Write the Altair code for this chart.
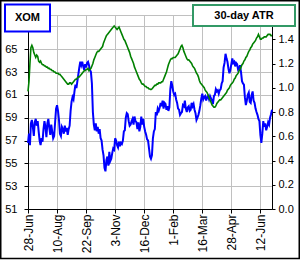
import altair as alt
import pandas as pd

# x-axis category labels (one every 30 trading days)
tick_labels = ["28-Jun", "10-Aug", "22-Sep", "3-Nov", "16-Dec",
               "1-Feb", "16-Mar", "28-Apr", "12-Jun"]
tick_step = 30

# XOM daily close (left axis)
price = [
    56.8, 57.6, 56.6, 58.5, 58.8, 58.2, 57.4, 58.6, 58.9, 58.3,
    58.7, 57.8, 57.0, 56.6, 57.2, 56.9, 58.0, 58.7, 58.2, 57.3,
    58.5, 58.9, 58.1, 57.5, 58.4, 57.8, 57.2, 57.4, 58.6, 59.8,
    60.1, 59.6, 58.8, 57.6, 57.4, 58.2, 58.0, 57.6, 58.3, 57.8,
    58.1, 57.5, 58.0, 58.3, 59.6, 60.4, 60.8, 60.6, 61.3, 61.9,
    61.6, 62.2, 62.8, 63.4, 63.9, 63.6, 63.9, 63.5, 63.2, 63.7,
    63.4, 63.8, 63.9, 63.6, 63.2, 63.0, 62.0, 59.5, 58.4, 57.9,
    58.5, 57.8, 58.2, 57.6, 58.0, 57.2, 57.0, 56.2, 55.7, 54.6,
    54.3, 55.3, 55.6, 54.8, 56.0, 55.2, 55.4, 55.9, 56.3, 56.2,
    57.2, 57.0, 56.6, 56.4, 56.9, 56.5, 56.8, 56.7, 57.0, 57.8,
    57.9, 59.0, 59.4, 59.3, 58.7, 58.3, 58.4, 58.7, 58.9, 58.4,
    59.1, 58.7, 58.6, 58.0, 58.6, 57.8, 58.2, 59.1, 58.4, 58.9,
    58.2, 57.8, 57.5, 57.1, 57.0, 56.3, 55.6, 55.4, 55.7, 57.2,
    57.8, 58.0, 59.5, 59.2, 59.8, 59.6, 59.9, 60.3, 60.0, 60.5,
    59.8, 60.3, 60.2, 59.7, 60.0, 59.6, 59.9, 61.5, 62.2, 61.8,
    61.3, 61.0, 61.1, 60.6, 60.3, 59.8, 59.7, 59.25, 59.4, 59.5,
    60.1, 60.0, 60.5, 59.8, 59.5, 59.9, 60.0, 59.6, 59.7, 60.3,
    60.0, 60.2, 59.7, 59.4, 58.8, 59.0, 59.25, 59.6, 60.1, 60.7,
    61.1, 60.6, 60.8, 60.9, 60.5, 60.8, 60.9, 60.6, 60.9, 60.7,
    60.5, 60.2, 60.9, 61.0, 61.5, 61.3, 61.4, 61.1, 61.4, 61.5,
    62.0, 62.2, 63.4, 63.8, 64.6, 64.2, 63.9, 63.3, 62.9, 63.2,
    63.7, 64.2, 63.8, 63.9, 63.5, 63.8, 63.7, 63.2, 63.3, 63.6,
    63.0, 62.2, 62.0, 61.9, 60.8, 60.1, 60.5, 61.0, 61.2, 60.4,
    60.3, 61.0, 61.3, 60.5, 60.3, 59.8, 59.5, 59.25, 58.9, 58.7,
    57.5, 56.8, 57.6, 58.7, 58.2, 58.5, 57.9, 58.2, 58.6, 58.4,
    59.0, 59.3, 59.7,
]

# 30-day ATR (right axis)
atr = [
    0.97, 1.05, 1.20, 1.33, 1.35, 1.33, 1.29, 1.27, 1.25, 1.27,
    1.26, 1.22, 1.21, 1.22, 1.20, 1.19, 1.19, 1.18, 1.18, 1.17,
    1.17, 1.16, 1.16, 1.15, 1.15, 1.14, 1.14, 1.13, 1.13, 1.12,
    1.12, 1.12, 1.11, 1.11, 1.10, 1.09, 1.08, 1.07, 1.06, 1.05,
    1.04, 1.03, 1.03, 1.04, 1.04, 1.03, 1.04, 1.05, 1.06, 1.07,
    1.07, 1.08, 1.09, 1.09, 1.10, 1.11, 1.12, 1.13, 1.14, 1.14,
    1.15, 1.15, 1.16, 1.14, 1.15, 1.16, 1.18, 1.20, 1.23, 1.25,
    1.27, 1.29, 1.30, 1.30, 1.31, 1.32, 1.33, 1.34, 1.37, 1.39,
    1.41, 1.43, 1.44, 1.45, 1.46, 1.47, 1.48, 1.49, 1.50, 1.51,
    1.50, 1.49, 1.48, 1.49, 1.50, 1.48, 1.46, 1.44, 1.42, 1.40,
    1.39, 1.37, 1.35, 1.33, 1.31, 1.29, 1.26, 1.24, 1.22, 1.20,
    1.17, 1.15, 1.13, 1.11, 1.09, 1.07, 1.06, 1.04, 1.03, 1.03,
    1.02, 1.01, 1.01, 1.00, 1.00, 0.99, 0.99, 0.985, 0.99, 1.00,
    1.01, 1.02, 1.02, 1.03, 1.03, 1.04, 1.04, 1.04, 1.05, 1.05,
    1.07, 1.09, 1.11, 1.13, 1.16, 1.19, 1.21, 1.23, 1.24, 1.24,
    1.25, 1.25, 1.25, 1.26, 1.27, 1.28, 1.30, 1.32, 1.34, 1.35,
    1.33, 1.30, 1.28, 1.26, 1.24, 1.23, 1.23, 1.22, 1.21, 1.20,
    1.18, 1.17, 1.16, 1.14, 1.12, 1.11, 1.09, 1.06, 1.04, 1.03,
    1.02, 1.01, 1.00, 0.98, 0.97, 0.96, 0.94, 0.92, 0.90, 0.88,
    0.86, 0.85, 0.84, 0.84, 0.85, 0.87, 0.88, 0.89, 0.90, 0.90,
    0.91, 0.92, 0.93, 0.94, 0.95, 0.96, 0.98, 0.99, 1.00, 1.02,
    1.03, 1.04, 1.05, 1.07, 1.08, 1.10, 1.11, 1.12, 1.14, 1.15,
    1.17, 1.19, 1.20, 1.22, 1.23, 1.25, 1.26, 1.28, 1.30, 1.31,
    1.33, 1.34, 1.36, 1.37, 1.38, 1.39, 1.41, 1.42, 1.44, 1.42,
    1.40, 1.40, 1.41, 1.41, 1.42, 1.42, 1.42, 1.43, 1.44, 1.44,
    1.44, 1.43, 1.43,
]

left_ticks = [51, 53, 55, 57, 59, 61, 63, 65, 67]
right_ticks = [0.0, 0.2, 0.4, 0.6, 0.8, 1.0, 1.2, 1.4]

df = pd.DataFrame({"day": list(range(len(price))), "price": price, "atr": atr})
n_last = len(price) - 1

FONT = "Liberation Sans"
label_js = "[" + ",".join("'%s'" % s for s in tick_labels) + "]"

x_axis = alt.Axis(
    values=list(range(0, n_last, tick_step)),
    labelExpr=label_js + "[round(datum.value/%d)]" % tick_step,
    labelAngle=-90, labelAlign="right", labelBaseline="middle",
    labelFont=FONT, labelFontSize=12, labelColor="black",
    labelPadding=1, tickSize=4, tickColor="black",
    domainColor="black", grid=True, gridColor="#c0c0c0",
    title=None, zindex=0, labelOverlap=False,
)
x_enc = alt.X("day:Q", scale=alt.Scale(domain=[0, n_last], nice=False, zero=False), axis=x_axis)

base = alt.Chart(df)

price_line = base.mark_line(color="#0000ff", strokeWidth=2).encode(
    x=x_enc,
    y=alt.Y("price:Q",
            scale=alt.Scale(domain=[51, 68], nice=False, zero=False),
            axis=alt.Axis(values=left_ticks, orient="left",
                          labelExpr="datum.value == 67 ? '' : datum.label",
                          labelFont=FONT, labelFontSize=11, labelColor="black",
                          labelPadding=7, tickSize=4, tickColor="black",
                          domainColor="black", grid=True, gridColor="#c0c0c0",
                          title=None, zindex=0)),
)

atr_line = base.mark_line(color="#008000", strokeWidth=1.6).encode(
    x=x_enc,
    y=alt.Y("atr:Q",
            scale=alt.Scale(domain=[0, 1.6], nice=False, zero=False),
            axis=alt.Axis(values=right_ticks, orient="right", format=".1f",
                          labelFont=FONT, labelFontSize=11, labelColor="black",
                          labelPadding=3, tickSize=3, tickColor="black",
                          domainColor="black", grid=False,
                          title=None, zindex=0)),
)

one = pd.DataFrame({"k": [0]})

xom_box = alt.Chart(one).mark_rect(fill="white", stroke="#0000ff", strokeWidth=2).encode(
    x=alt.value(-23), x2=alt.value(22), y=alt.value(-10.5), y2=alt.value(16.5))
xom_text = alt.Chart(one).mark_text(text="XOM", font=FONT, fontSize=11, fontWeight="bold",
                                    color="black", align="center", baseline="middle").encode(
    x=alt.value(-0.5), y=alt.value(3))

atr_box = alt.Chart(one).mark_rect(fill="white", stroke="#339966", strokeWidth=2).encode(
    x=alt.value(165), x2=alt.value(267), y=alt.value(-10), y2=alt.value(11))
atr_text = alt.Chart(one).mark_text(text="30-day ATR", font=FONT, fontSize=11, fontWeight="bold",
                                    color="black", align="center", baseline="middle").encode(
    x=alt.value(216), y=alt.value(0.5))

frame = alt.Chart(one).mark_rect(fill=None, stroke="black", strokeWidth=1.5).encode(
    x=alt.value(-27.25), x2=alt.value(271.25), y=alt.value(-14.25), y2=alt.value(243.5))

chart = alt.layer(
    price_line, atr_line, xom_box, xom_text, atr_box, atr_text, frame
).resolve_scale(y="independent").properties(
    width=244, height=194,
    autosize=alt.AutoSizeParams(type="none"),
    padding={"left": 28, "top": 15, "right": 29, "bottom": 51},
    background="white",
).configure_view(stroke="#c0c0c0", strokeWidth=1)

chart.save("out.html", embed_options={"renderer": "svg", "actions": False})
